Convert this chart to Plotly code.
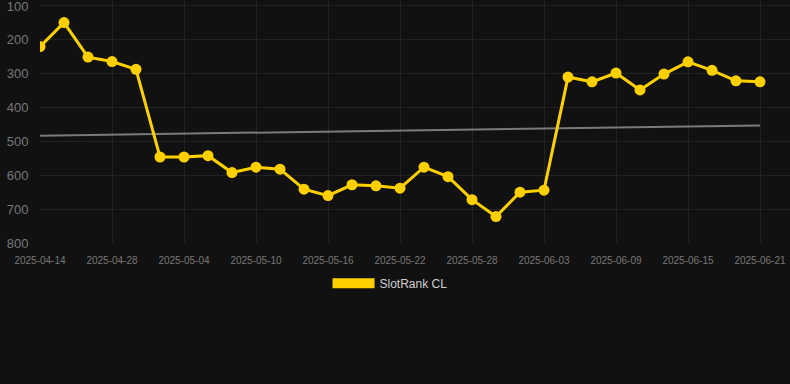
import plotly.graph_objects as go

dates = ["2025-04-14", "2025-04-19", "2025-04-24", "2025-04-28", "2025-04-30", "2025-05-02",
         "2025-05-04", "2025-05-06", "2025-05-08", "2025-05-10", "2025-05-12", "2025-05-14",
         "2025-05-16", "2025-05-18", "2025-05-20", "2025-05-22", "2025-05-24", "2025-05-26",
         "2025-05-28", "2025-05-30", "2025-06-01", "2025-06-03", "2025-06-05", "2025-06-07",
         "2025-06-09", "2025-06-11", "2025-06-13", "2025-06-15", "2025-06-17", "2025-06-19",
         "2025-06-21"]
rank = [220, 149, 251, 264, 287, 546, 546, 542, 592, 576, 582, 641, 660, 628, 631, 638,
        576, 604, 672, 722, 650, 644, 310, 324, 298, 348, 301, 265, 290, 321, 324]
trend_x = ["2025-04-14", "2025-06-21"]
trend_y = [483, 453]
tick_labels = dates[::3]
y_ticks = [100, 200, 300, 400, 500, 600, 700, 800]

gold = "#FFD000"
fig = go.Figure()
fig.add_trace(go.Scatter(x=trend_x, y=trend_y, mode="lines",
                         line=dict(color="#7a7a7a", width=2), showlegend=False, hoverinfo="skip"))
fig.add_trace(go.Scatter(x=dates, y=rank, mode="lines+markers",
                         line=dict(color=gold, width=3), marker=dict(color=gold, size=11),
                         showlegend=False, name="SlotRank CL"))
fig.add_trace(go.Scatter(x=[None], y=[None], mode="lines", name="SlotRank CL",
                         line=dict(color=gold, width=12)))

fig.update_layout(
    width=790, height=384,
    paper_bgcolor="#111111", plot_bgcolor="#111111",
    margin=dict(l=40, r=0, t=0, b=141, autoexpand=False),
    font=dict(family="Liberation Sans, Arial, sans-serif", color="#777777"),
    showlegend=True,
    legend=dict(orientation="h", x=0.4667, xanchor="center", y=-0.106, yanchor="top",
                font=dict(size=12, color="#d0d0d0"), itemwidth=42,
                bgcolor="rgba(0,0,0,0)"),
)
fig.update_xaxes(type="category", categoryorder="array", categoryarray=dates,
                 range=[0, 31.25], tickvals=tick_labels, ticktext=tick_labels,
                 tickfont=dict(size=10, color="#777777"), showgrid=True,
                 gridcolor="#222222", zeroline=False, showline=False, tickangle=0,
                 ticks="outside", ticklen=8, tickcolor="rgba(0,0,0,0)", automargin=False)
fig.update_yaxes(range=[800, 82.3], tickvals=y_ticks, tickfont=dict(size=13, color="#777777"),
                 showgrid=True, gridcolor="#222222", zeroline=False, showline=False,
                 ticks="outside", ticklen=8, tickcolor="rgba(0,0,0,0)",
                 ticklabeloverflow="allow", automargin=False)

fig.write_html("out.html", config={"displayModeBar": False},
               post_script="document.body.style.margin='0';document.body.style.background='#111111';")
